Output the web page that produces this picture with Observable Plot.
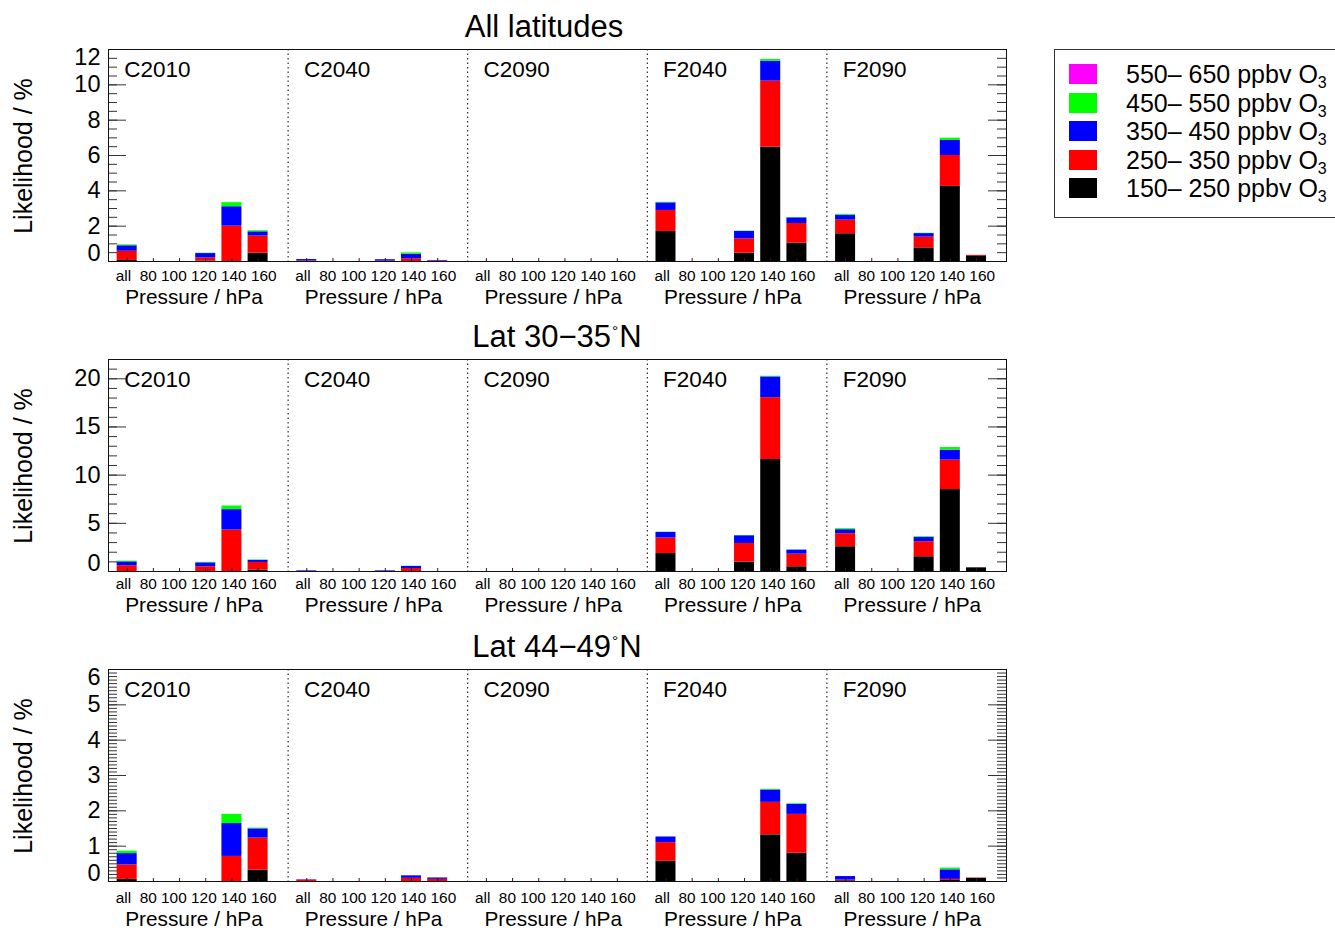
<!DOCTYPE html>
<html>
<head>
<meta charset="utf-8">
<script src="https://cdn.jsdelivr.net/npm/d3@7"></script>
<script src="https://cdn.jsdelivr.net/npm/@observablehq/plot@0.6"></script>
<style>
html, body { margin: 0; padding: 0; background: #fff; }
body { width: 1335px; height: 931px; overflow: hidden; position: relative;
       font-family: "Liberation Sans", Arial, sans-serif; color: #000; }
.row { position: absolute; left: 0; }
.title { position: absolute; font-size: 31px; line-height: 31px; white-space: nowrap; transform: translateX(-50%); }
.title .deg { font-size: 50%; vertical-align: 0.72em; line-height: 0; margin: 0 1px; }
.ylab { position: absolute; font-size: 25px; line-height: 25px; white-space: nowrap;
        transform: translate(-50%, -50%) rotate(-90deg); }
.legend { position: absolute; left: 1054px; top: 49px; width: 320px; height: 169px; border: 1px solid #333; box-sizing: border-box; }
.legend .sw { position: absolute; width: 28px; height: 20px; }
.legend .lt { position: absolute; font-size: 25px; line-height: 25px; white-space: nowrap; }
.legend .lt sub { font-size: 16px; vertical-align: -5px; line-height: 0; }
</style>
</head>
<body>
<div id="fig"></div>
<script>
// ---------- labels ----------
const rowTitles = ["All latitudes", "Lat 30−35°N", "Lat 44−49°N"];
const runs = ["C2010", "C2040", "C2090", "F2040", "F2090"];
const pressures = ["all", "80", "100", "120", "140", "160"];
const ozoneBands = ["150– 250", "250– 350", "350– 450", "450– 550", "550– 650"];
const bandColors = ["#000000", "#ff0000", "#0000ff", "#00ff00", "#ff00ff"];
const yMax = [12, 22, 6];
const yMajor = [[0, 2, 4, 6, 8, 10, 12], [0, 5, 10, 15, 20], [0, 1, 2, 3, 4, 5, 6]];
const yMinorStep = [0.5, 1, 0.1];

// ---------- values (likelihood %, rows = runs, columns = pressures) ----------
// All latitudes
const allLat_150 = [
  [0.06, 0, 0, 0.02, 0, 0.47],
  [0, 0, 0, 0, 0, 0],
  [0, 0, 0, 0, 0, 0],
  [1.70, 0, 0, 0.47, 6.47, 1.04],
  [1.57, 0, 0, 0.77, 4.25, 0.32]];
const allLat_250 = [
  [0.52, 0, 0, 0.18, 2.00, 0.97],
  [0.03, 0, 0, 0.02, 0.15, 0.03],
  [0, 0, 0, 0, 0, 0],
  [1.19, 0, 0, 0.81, 3.74, 1.11],
  [0.77, 0, 0, 0.61, 1.75, 0.03]];
const allLat_350 = [
  [0.31, 0, 0, 0.25, 1.10, 0.24],
  [0.08, 0, 0, 0.08, 0.26, 0.03],
  [0, 0, 0, 0, 0, 0],
  [0.43, 0, 0, 0.42, 1.13, 0.32],
  [0.28, 0, 0, 0.20, 0.85, 0]];
const allLat_450 = [
  [0.05, 0, 0, 0.02, 0.23, 0.06],
  [0, 0, 0, 0, 0.08, 0],
  [0, 0, 0, 0, 0, 0],
  [0.03, 0, 0, 0.02, 0.10, 0.02],
  [0.05, 0, 0, 0.02, 0.13, 0]];
const allLat_550 = [
  [0, 0, 0, 0, 0, 0],
  [0, 0, 0, 0, 0, 0],
  [0, 0, 0, 0, 0, 0],
  [0, 0, 0, 0, 0, 0],
  [0, 0, 0, 0, 0, 0]];
// Lat 30-35N
const lat30_150 = [
  [0, 0, 0, 0, 0, 0.14],
  [0, 0, 0, 0, 0, 0],
  [0, 0, 0, 0, 0, 0],
  [1.87, 0, 0, 0.97, 11.62, 0.49],
  [2.57, 0, 0, 1.53, 8.50, 0.38]];
const lat30_250 = [
  [0.59, 0, 0, 0.49, 4.30, 0.80],
  [0.02, 0, 0, 0.02, 0.31, 0],
  [0, 0, 0, 0, 0, 0],
  [1.60, 0, 0, 1.94, 6.42, 1.31],
  [1.35, 0, 0, 1.56, 3.06, 0]];
const lat30_350 = [
  [0.41, 0, 0, 0.41, 2.12, 0.21],
  [0.06, 0, 0, 0.06, 0.21, 0],
  [0, 0, 0, 0, 0, 0],
  [0.59, 0, 0, 0.80, 2.15, 0.42],
  [0.42, 0, 0, 0.45, 1.04, 0]];
const lat30_450 = [
  [0.08, 0, 0, 0.05, 0.38, 0.05],
  [0, 0, 0, 0, 0.03, 0],
  [0, 0, 0, 0, 0, 0],
  [0.02, 0, 0, 0.03, 0.07, 0.02],
  [0.10, 0, 0, 0.07, 0.27, 0]];
const lat30_550 = [
  [0, 0, 0, 0, 0, 0],
  [0, 0, 0, 0, 0, 0],
  [0, 0, 0, 0, 0, 0],
  [0, 0, 0, 0, 0, 0],
  [0, 0, 0, 0, 0, 0]];
// Lat 44-49N
const lat44_150 = [
  [0.06, 0, 0, 0, 0, 0.32],
  [0, 0, 0, 0, 0, 0],
  [0, 0, 0, 0, 0, 0],
  [0.57, 0, 0, 0, 1.32, 0.80],
  [0.02, 0, 0, 0, 0.03, 0.09]];
const lat44_250 = [
  [0.41, 0, 0, 0, 0.71, 0.91],
  [0.04, 0, 0, 0, 0.09, 0.06],
  [0, 0, 0, 0, 0, 0],
  [0.53, 0, 0, 0, 0.92, 1.10],
  [0.02, 0, 0, 0, 0.03, 0.01]];
const lat44_350 = [
  [0.32, 0, 0, 0, 0.93, 0.26],
  [0.01, 0, 0, 0, 0.07, 0.04],
  [0, 0, 0, 0, 0, 0],
  [0.16, 0, 0, 0, 0.35, 0.28],
  [0.10, 0, 0, 0, 0.27, 0]];
const lat44_450 = [
  [0.07, 0, 0, 0, 0.26, 0.02],
  [0, 0, 0, 0, 0, 0],
  [0, 0, 0, 0, 0, 0],
  [0, 0, 0, 0, 0.02, 0.02],
  [0, 0, 0, 0, 0.05, 0]];
const lat44_550 = [
  [0, 0, 0, 0, 0, 0],
  [0, 0, 0, 0, 0, 0],
  [0, 0, 0, 0, 0, 0],
  [0, 0, 0, 0, 0, 0],
  [0, 0, 0, 0, 0, 0]];

const rowSeries = [
  [allLat_150, allLat_250, allLat_350, allLat_450, allLat_550],
  [lat30_150, lat30_250, lat30_350, lat30_450, lat30_550],
  [lat44_150, lat44_250, lat44_350, lat44_450, lat44_550]
];

// ---------- layout (x in sub-panel units: each run occupies 1 unit) ----------
const BAR_OFF = 0.104, BAR_STEP = 0.1458, BAR_HALF = 0.0557;
const RUN_LABEL_OFF = 0.088, TICKLAB_CENTER = 0.488, XTITLE_CENTER = 0.476;
const XLAB_SHIFT = [0, -2, 2];
const FONT = "Liberation Sans, Arial, sans-serif";
const PW = 898, PH = 212;
const ROW_STEP = 310;
const fig = document.getElementById("fig");
const tickString = pressures[0] + "\u00a0\u00a0" + pressures.slice(1).join("\u00a0");
const xc = d => d.s + BAR_OFF + d.k * BAR_STEP;

rowTitles.forEach((title, r) => {
  const data = [];
  ozoneBands.forEach((band, bi) => {
    rowSeries[r][bi].forEach((vals, s) => {
      vals.forEach((v, k) => data.push({band, s, k, value: v}));
    });
  });
  const centers = [];
  runs.forEach((run, s) => pressures.forEach((p, k) => centers.push({s, k})));
  const ymax = yMax[r];
  const major = yMajor[r];
  const minor = d3.range(0, ymax + 1e-9, yMinorStep[r]).map(v => +v.toFixed(3));
  const mid = major.filter(v => v > 0 && v < ymax);

  const plot = Plot.plot({
    width: 1010, height: 272,
    marginLeft: 108, marginRight: 4, marginTop: 10, marginBottom: 50,
    x: {domain: [0, runs.length], axis: null},
    y: {domain: [0, ymax], axis: null},
    color: {domain: ozoneBands, range: bandColors},
    style: {fontFamily: FONT, overflow: "visible", background: "transparent"},
    marks: [
      Plot.rectY(data, {x1: d => xc(d) - BAR_HALF, x2: d => xc(d) + BAR_HALF, y: "value", fill: "band"}),
      Plot.ruleX(centers, {x: xc, stroke: "#4a0a2a", insetTop: PH - 3}),
      Plot.ruleX(d3.range(1, runs.length), {x: d => d, stroke: "#000", strokeDasharray: "1.5,3"}),
      // inward ticks, left and right
      Plot.ruleY(minor, {y: d => d, stroke: "#333", insetRight: PW - 9}),
      Plot.ruleY(major, {y: d => d, stroke: "#333", insetRight: PW - 18}),
      Plot.ruleY(minor, {y: d => d, stroke: "#333", insetLeft: PW - 9}),
      Plot.ruleY(major, {y: d => d, stroke: "#333", insetLeft: PW - 18}),
      Plot.frame({stroke: "#111"}),
      // y tick labels
      Plot.text(mid, {y: d => d, text: d => String(d), frameAnchor: "left", textAnchor: "end", dx: -8, fontSize: 23.5, fontFamily: FONT}),
      Plot.text([0], {y: d => d, text: d => String(d), frameAnchor: "left", textAnchor: "end", dx: -8, dy: -8, fontSize: 23.5, fontFamily: FONT}),
      Plot.text(major.filter(v => v === ymax), {y: d => d, text: d => String(d), frameAnchor: "left", textAnchor: "end", dx: -8, dy: 7.5, fontSize: 23.5, fontFamily: FONT}),
      // run labels
      Plot.text(runs, {x: (d, i) => i + RUN_LABEL_OFF, text: d => d, frameAnchor: "top", textAnchor: "start", lineAnchor: "bottom", dy: 27, fontSize: 22.5, fontFamily: FONT}),
      // x tick labels and x titles
      Plot.text(runs, {x: (d, i) => i + TICKLAB_CENTER, text: () => tickString, frameAnchor: "bottom", textAnchor: "middle", lineAnchor: "bottom", dy: 19 + XLAB_SHIFT[r], fontSize: 15.4, fontFamily: FONT}),
      Plot.text(runs, {x: (d, i) => i + XTITLE_CENTER, text: () => "Pressure / hPa", frameAnchor: "bottom", textAnchor: "middle", lineAnchor: "bottom", dy: 42.5 + XLAB_SHIFT[r], fontSize: 20.8, fontFamily: FONT})
    ]
  });
  const wrap = document.createElement("div");
  wrap.className = "row";
  wrap.style.top = (39 + ROW_STEP * r) + "px";
  wrap.appendChild(plot);
  fig.appendChild(wrap);

  // title
  const t = document.createElement("div");
  t.className = "title";
  const cx = r === 0 ? 544 : 557;
  t.style.left = cx + "px";
  t.style.top = (37 - 26.2 + ROW_STEP * r) + "px";
  const parts = title.split("°");
  t.innerHTML = parts.length > 1 ? parts[0] + '<span class="deg">°</span>' + parts[1] : title;
  fig.appendChild(t);

  // y label
  const yl = document.createElement("div");
  yl.className = "ylab";
  yl.style.left = "23px";
  yl.style.top = (155.5 + ROW_STEP * r) + "px";
  yl.textContent = "Likelihood / %";
  fig.appendChild(yl);
});

// ---------- legend ----------
const leg = document.createElement("div");
leg.className = "legend";
const order = ozoneBands.map((b, i) => i).reverse();
order.forEach((bi, j) => {
  const cy = 74.2 + j * 28.5 - 49 - 1;
  const sw = document.createElement("div");
  sw.className = "sw";
  sw.style.left = "14px";
  sw.style.top = (cy - 10) + "px";
  sw.style.background = bandColors[bi];
  leg.appendChild(sw);
  const lt = document.createElement("div");
  lt.className = "lt";
  lt.style.left = "71px";
  lt.style.top = (cy + 9 - 21.2) + "px";
  lt.innerHTML = ozoneBands[bi] + " ppbv O<sub>3</sub>";
  leg.appendChild(lt);
});
fig.appendChild(leg);
</script>
</body>
</html>
